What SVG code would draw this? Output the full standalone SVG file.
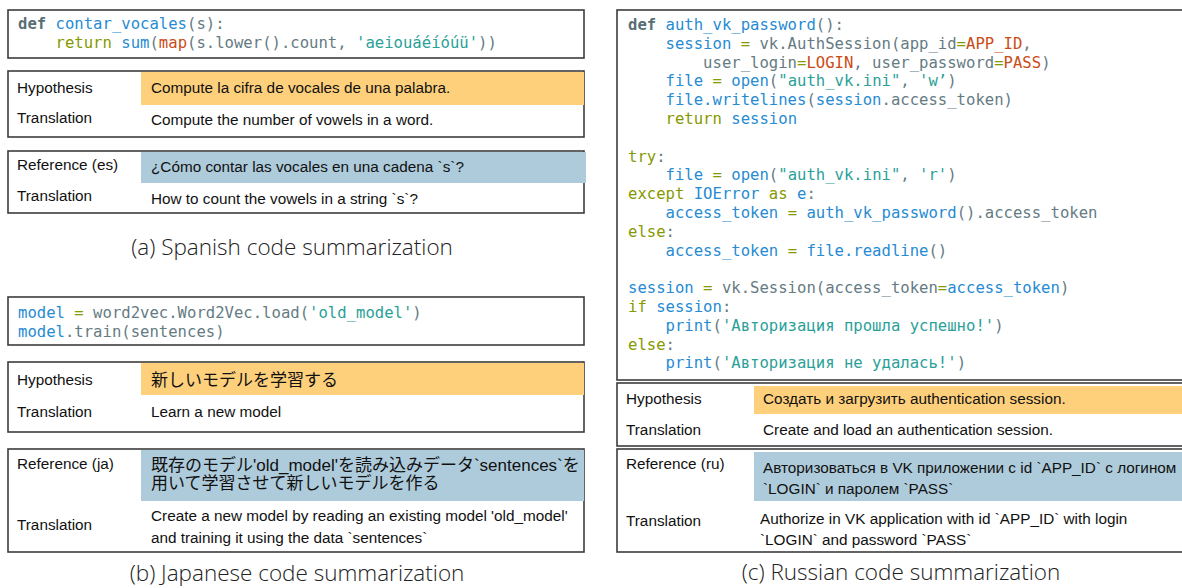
<svg xmlns="http://www.w3.org/2000/svg" width="1182" height="588" viewBox="0 0 1182 588">
<style>
.box{fill:#fff;stroke:#3c3c3c;stroke-width:1.6}
.hyp{fill:#fed07c}
.ref{fill:#aecbdb}
.code{font-family:"DejaVu Sans Mono",monospace;font-size:15.6px;fill:#657b83;white-space:pre}
.d{font-weight:bold;fill:#586e75}
.k{fill:#859900}
.f{fill:#268bd2}
.s{fill:#2aa198}
.o{fill:#cb4b16}
.t{font-family:"Liberation Sans","Noto Sans CJK JP",sans-serif;font-size:15.3px;fill:#111}
.jp{font-family:"Liberation Sans","Noto Sans CJK JP",sans-serif;font-size:17px;fill:#111}
.cap{font-family:"Open Sans","Liberation Sans",sans-serif;font-weight:300;font-size:22.5px;fill:#222;text-anchor:middle}
</style>

<!-- Panel (a) -->
<g id="a-code">
<rect class="box" x="8" y="10" width="576" height="48"/>
<text class="code" x="18" y="29" xml:space="preserve"><tspan class="d">def</tspan> <tspan class="f">contar_vocales</tspan>(s):</text>
<text class="code" x="18" y="48" xml:space="preserve">    <tspan class="k">return</tspan> <tspan class="f">sum</tspan>(<tspan class="o">map</tspan>(s.lower().count, <tspan class="s">'aeiouáéíóúü'</tspan>))</text>
</g>
<g id="a-hypothesis">
<rect class="box" x="8" y="71" width="576" height="66"/>
<rect class="hyp" x="141" y="72" width="443" height="33"/>
<text class="t" x="17" y="93">Hypothesis</text>
<text class="t" x="151" y="93">Compute la cifra de vocales de una palabra.</text>
<text class="t" x="17" y="123">Translation</text>
<text class="t" x="151" y="125">Compute the number of vowels in a word.</text>
</g>
<g id="a-reference">
<rect class="box" x="8" y="151" width="576" height="62"/>
<rect class="ref" x="141" y="152" width="445" height="31"/>
<text class="t" x="17" y="170">Reference (es)</text>
<text class="t" x="151" y="172">¿Cómo contar las vocales en una cadena `s`?</text>
<text class="t" x="17" y="201">Translation</text>
<text class="t" x="151" y="204">How to count the vowels in a string `s`?</text>
</g>
<text id="a-caption" class="cap" x="292" y="255">(a) Spanish code summarization</text>

<!-- Panel (b) -->
<g id="b-code">
<rect class="box" x="8" y="297" width="576" height="48"/>
<text class="code" x="18" y="318" xml:space="preserve"><tspan class="f">model</tspan> <tspan class="k">=</tspan> word2vec.Word2Vec.load(<tspan class="s">'old_model'</tspan>)</text>
<text class="code" x="18" y="337" xml:space="preserve"><tspan class="f">model</tspan>.train(sentences)</text>
</g>
<g id="b-hypothesis">
<rect class="box" x="8" y="362" width="576" height="70"/>
<rect class="hyp" x="141" y="363" width="443" height="32"/>
<text class="t" x="17" y="385">Hypothesis</text>
<text class="jp" x="151" y="386">新しいモデルを学習する</text>
<text class="t" x="17" y="417">Translation</text>
<text class="t" x="151" y="417">Learn a new model</text>
</g>
<g id="b-reference">
<rect class="box" x="8" y="449" width="576" height="103"/>
<rect class="ref" x="141" y="450" width="443" height="51"/>
<text class="t" x="17" y="469">Reference (ja)</text>
<text class="jp" x="151" y="471">既存のモデル'old_model'を読み込みデータ`sentences`を</text>
<text class="jp" x="151" y="489">用いて学習させて新しいモデルを作る</text>
<text class="t" x="17" y="530">Translation</text>
<text class="t" x="151" y="521">Create a new model by reading an existing model 'old_model'</text>
<text class="t" x="151" y="543">and training it using the data `sentences`</text>
</g>
<text id="b-caption" class="cap" x="297" y="581">(b) Japanese code summarization</text>

<!-- Panel (c) -->
<g id="c-code">
<rect class="box" x="617" y="10" width="580" height="370"/>
<text class="code" x="628" y="30" xml:space="preserve"><tspan class="d">def</tspan> <tspan class="f">auth_vk_password</tspan>():</text>
<text class="code" x="628" y="48.8" xml:space="preserve">    <tspan class="f">session</tspan> <tspan class="k">=</tspan> vk.AuthSession(app_id<tspan class="k">=</tspan><tspan class="o">APP_ID</tspan>,</text>
<text class="code" x="628" y="67.6" xml:space="preserve">        user_login<tspan class="k">=</tspan><tspan class="o">LOGIN</tspan>, user_password<tspan class="k">=</tspan><tspan class="o">PASS</tspan>)</text>
<text class="code" x="628" y="86.4" xml:space="preserve">    <tspan class="f">file</tspan> <tspan class="k">=</tspan> <tspan class="f">open</tspan>(<tspan class="s">"auth_vk.ini"</tspan>, <tspan class="s">'w’</tspan>)</text>
<text class="code" x="628" y="105.2" xml:space="preserve">    <tspan class="f">file.writelines</tspan>(<tspan class="f">session</tspan>.access_token)</text>
<text class="code" x="628" y="124" xml:space="preserve">    <tspan class="k">return</tspan> <tspan class="f">session</tspan></text>
<text class="code" x="628" y="161.6" xml:space="preserve"><tspan class="k">try</tspan>:</text>
<text class="code" x="628" y="180.4" xml:space="preserve">    <tspan class="f">file</tspan> <tspan class="k">=</tspan> <tspan class="f">open</tspan>(<tspan class="s">"auth_vk.ini"</tspan>, <tspan class="s">'r'</tspan>)</text>
<text class="code" x="628" y="199.2" xml:space="preserve"><tspan class="k">except</tspan> <tspan class="f">IOError</tspan> <tspan class="k">as</tspan> <tspan class="f">e</tspan>:</text>
<text class="code" x="628" y="218" xml:space="preserve">    <tspan class="f">access_token</tspan> <tspan class="k">=</tspan> <tspan class="f">auth_vk_password</tspan>().access_token</text>
<text class="code" x="628" y="236.8" xml:space="preserve"><tspan class="k">else</tspan>:</text>
<text class="code" x="628" y="255.6" xml:space="preserve">    <tspan class="f">access_token</tspan> <tspan class="k">=</tspan> <tspan class="f">file.readline</tspan>()</text>
<text class="code" x="628" y="293.2" xml:space="preserve"><tspan class="f">session</tspan> <tspan class="k">=</tspan> vk.Session(access_token<tspan class="k">=</tspan><tspan class="f">access_token</tspan>)</text>
<text class="code" x="628" y="312" xml:space="preserve"><tspan class="k">if</tspan> <tspan class="f">session</tspan>:</text>
<text class="code" x="628" y="330.8" xml:space="preserve">    <tspan class="f">print</tspan>(<tspan class="s">'Авторизация прошла успешно!'</tspan>)</text>
<text class="code" x="628" y="349.6" xml:space="preserve"><tspan class="k">else</tspan>:</text>
<text class="code" x="628" y="368.4" xml:space="preserve">    <tspan class="f">print</tspan>(<tspan class="s">'Авторизация не удалась!'</tspan>)</text>
</g>
<g id="c-hypothesis">
<rect class="box" x="617" y="383" width="580" height="63"/>
<rect class="hyp" x="754" y="386" width="430" height="28"/>
<text class="t" x="626" y="404">Hypothesis</text>
<text class="t" x="763" y="404">Создать и загрузить authentication session.</text>
<text class="t" x="626" y="435">Translation</text>
<text class="t" x="763" y="435">Create and load an authentication session.</text>
</g>
<g id="c-reference">
<rect class="box" x="617" y="449" width="580" height="103"/>
<rect class="ref" x="754" y="452" width="430" height="49"/>
<text class="t" x="626" y="469">Reference (ru)</text>
<text class="t" x="763" y="473">Авторизоваться в VK приложении с id `APP_ID` с логином</text>
<text class="t" x="763" y="494">`LOGIN` и паролем `PASS`</text>
<text class="t" x="626" y="526">Translation</text>
<text class="t" x="760" y="524">Authorize in VK application with id `APP_ID` with login</text>
<text class="t" x="760" y="545">`LOGIN` and password `PASS`</text>
</g>
<text id="c-caption" class="cap" x="901" y="580">(c) Russian code summarization</text>
</svg>
